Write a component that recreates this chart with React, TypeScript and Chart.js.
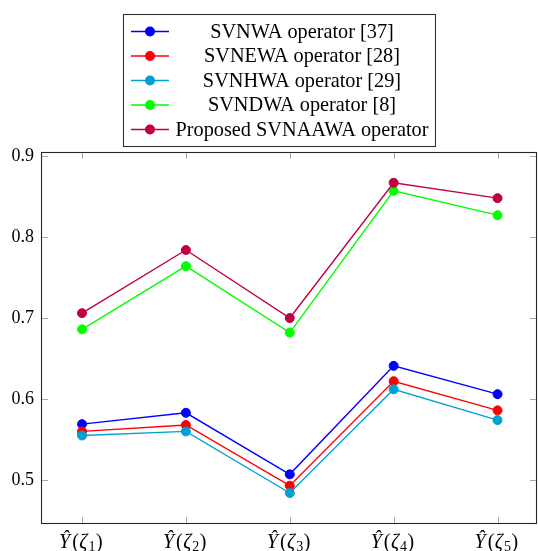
import React, { useEffect, useRef } from "react";
import { Chart, registerables } from "chart.js";

Chart.register(...registerables);

const categories = ["Ŷ(ζ₁)", "Ŷ(ζ₂)", "Ŷ(ζ₃)", "Ŷ(ζ₄)", "Ŷ(ζ₅)"];
const seriesNames = [
  "SVNWA operator [37]",
  "SVNEWA operator [28]",
  "SVNHWA operator [29]",
  "SVNDWA operator [8]",
  "Proposed SVNAAWA operator",
];
const svnwa = [0.569, 0.583, 0.507, 0.641, 0.606];
const svnewa = [0.56, 0.568, 0.493, 0.622, 0.586];
const svnhwa = [0.555, 0.56, 0.484, 0.612, 0.574];
const svndwa = [0.686, 0.764, 0.682, 0.857, 0.827];
const svnaawa = [0.706, 0.784, 0.7, 0.867, 0.848];
const seriesColors = ["#0000ff", "#ff0000", "#00a0d2", "#00ff00", "#c00040"];
const yTicks = [0.5, 0.6, 0.7, 0.8, 0.9];

const SERIF = "'Liberation Serif', 'Times New Roman', serif";

const frameAndTicks = {
  id: "frameAndTicks",
  afterDatasetsDraw(chart: any) {
    const { ctx, chartArea } = chart;
    const { left, right, top, bottom } = chartArea;
    const xs = chart.scales.x;
    const ys = chart.scales.y;
    ctx.save();
    ctx.strokeStyle = "#aaaaaa";
    ctx.lineWidth = 1;
    const tl = 7;
    ctx.beginPath();
    categories.forEach((_, i) => {
      const x = Math.round(xs.getPixelForValue(i)) + 0.5;
      ctx.moveTo(x, bottom);
      ctx.lineTo(x, bottom - tl);
      ctx.moveTo(x, top);
      ctx.lineTo(x, top + tl);
    });
    yTicks.forEach((v) => {
      const y = Math.round(ys.getPixelForValue(v)) + 0.5;
      ctx.moveTo(left, y);
      ctx.lineTo(left + tl, y);
      ctx.moveTo(right, y);
      ctx.lineTo(right - tl, y);
    });
    ctx.stroke();
    ctx.strokeStyle = "#262626";
    ctx.lineWidth = 1.1;
    ctx.strokeRect(left + 0.5, top + 0.5, right - left - 1, bottom - top - 1);
    ctx.restore();
  },
};

const subMap: Record<string, string> = { "₁": "1", "₂": "2", "₃": "3", "₄": "4", "₅": "5" };

const mathLabels = {
  id: "mathLabels",
  afterDraw(chart: any) {
    const { ctx } = chart;
    const xs = chart.scales.x;
    const base = 547.5;
    ctx.save();
    ctx.fillStyle = "#000";
    ctx.textBaseline = "alphabetic";
    ctx.textAlign = "left";
    categories.forEach((label, i) => {
      const segs = Array.from(label).map((ch) => {
        if (subMap[ch]) return { t: subMap[ch], f: `14px ${SERIF}`, dy: 3, gap: 0.5 };
        if (ch === "(" || ch === ")") return { t: ch, f: `20px ${SERIF}`, dy: 0, gap: 0.5 };
        if (ch === "Ŷ") return { t: ch, f: `italic 20px ${SERIF}`, dy: 0, gap: 2 };
        return { t: ch, f: `italic 20px ${SERIF}`, dy: 0, gap: 1 };
      });
      let w = 0;
      segs.forEach((s) => {
        ctx.font = s.f;
        w += ctx.measureText(s.t).width + s.gap;
      });
      let x = xs.getPixelForValue(i) - w / 2 - 1;
      segs.forEach((s) => {
        ctx.font = s.f;
        ctx.fillText(s.t, x, base + s.dy);
        x += ctx.measureText(s.t).width + s.gap;
      });
    });
    ctx.restore();
  },
};

const boxLegend = {
  id: "boxLegend",
  afterDraw(chart: any) {
    const { ctx } = chart;
    const bx = 123.5, by = 14.5, bw = 312, bh = 132;
    ctx.save();
    ctx.fillStyle = "#fff";
    ctx.fillRect(bx, by, bw, bh);
    ctx.strokeStyle = "#333";
    ctx.lineWidth = 1.1;
    ctx.strokeRect(bx, by, bw, bh);
    chart.data.datasets.forEach((ds: any, i: number) => {
      const y = 31.5 + i * 24.5;
      ctx.strokeStyle = ds.borderColor;
      ctx.lineWidth = 1.4;
      ctx.beginPath();
      ctx.moveTo(131, y);
      ctx.lineTo(169, y);
      ctx.stroke();
      ctx.fillStyle = ds.backgroundColor;
      ctx.beginPath();
      ctx.arc(150, y, 5, 0, Math.PI * 2);
      ctx.fill();
      ctx.fillStyle = "#000";
      ctx.font = `20.3px ${SERIF}`;
      ctx.textAlign = "center";
      ctx.textBaseline = "middle";
      ctx.fillText(ds.label, 302, y + 1);
    });
    ctx.restore();
  },
};

export default function App() {
  const ref = useRef<HTMLCanvasElement>(null);
  useEffect(() => {
    document.body.style.margin = "0";
    document.body.style.overflow = "hidden";
    const series = [svnwa, svnewa, svnhwa, svndwa, svnaawa];
    const chart = new Chart(ref.current as HTMLCanvasElement, {
      type: "line",
      data: {
        datasets: series.map((vals, i) => ({
          label: seriesNames[i],
          data: vals.map((v, j) => ({ x: j, y: v })),
          borderColor: seriesColors[i],
          backgroundColor: seriesColors[i],
          pointBackgroundColor: seriesColors[i],
          pointBorderColor: seriesColors[i],
          pointRadius: 4.5,
          pointBorderWidth: 1,
          borderWidth: 1.4,
          tension: 0,
          order: 5 - i,
        })),
      },
      options: {
        animation: false,
        responsive: false,
        events: [],
        layout: { autoPadding: false, padding: { top: 152, right: 1, left: 0, bottom: 0 } },
        plugins: { legend: { display: false }, tooltip: { enabled: false } },
        scales: {
          x: {
            type: "linear",
            min: -0.395,
            max: 4.38,
            grid: { display: false },
            border: { display: false },
            ticks: { display: false },
            afterFit: (s: any) => {
              s.height = 27;
            },
          },
          y: {
            type: "linear",
            min: 0.4457,
            max: 0.905,
            grid: { display: false, drawTicks: false },
            border: { display: false },
            afterBuildTicks: (s: any) => {
              s.ticks = yTicks.map((v) => ({ value: v }));
            },
            ticks: {
              padding: 7,
              color: "#000",
              font: { family: SERIF, size: 18 },
              callback: (v: any) => Number(v).toFixed(1),
            },
            afterFit: (s: any) => {
              s.width = 41;
            },
          },
        },
      },
      plugins: [frameAndTicks, mathLabels, boxLegend],
    });
    return () => chart.destroy();
  }, []);
  return <canvas ref={ref} width={538} height={551} style={{ display: "block" }} />;
}
